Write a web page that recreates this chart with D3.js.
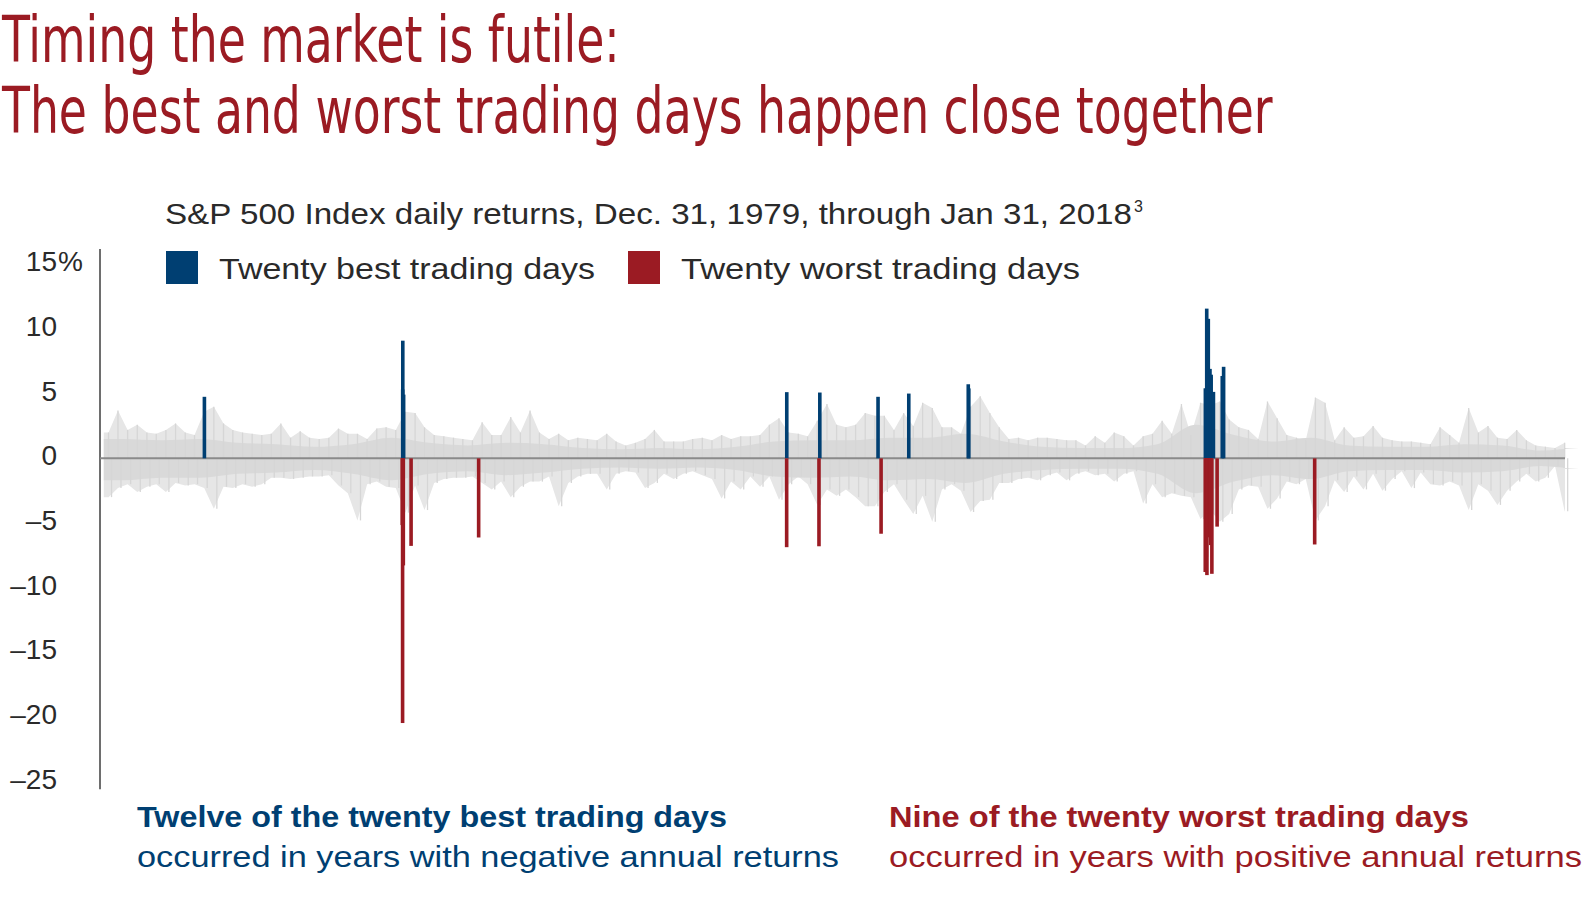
<!DOCTYPE html>
<html><head><meta charset="utf-8">
<script src="https://cdn.jsdelivr.net/npm/d3@7"></script>
<style>body{margin:0;background:#fff}</style>
</head><body><svg id="c" width="1588" height="909"></svg>
<script>
// ---------- DATA ----------
const titleLines = ["Timing the market is futile:", "The best and worst trading days happen close together"];
const subtitle = "S&P 500 Index daily returns, Dec. 31, 1979, through Jan 31, 2018";
const subtitleNote = "3";
const legendLabels = ["Twenty best trading days", "Twenty worst trading days"];
const yTicks = [15, 10, 5, 0, -5, -10, -15, -20, -25];

const bestDates = ["1982-08-17","1987-10-20","1987-10-21","1987-10-29","1997-10-28","1998-09-08","2000-03-16","2001-01-03","2002-07-24","2002-07-29","2008-09-30","2008-10-13","2008-10-20","2008-10-28","2008-11-13","2008-11-21","2008-11-24","2008-12-16","2009-03-10","2009-03-23"];
const bestValues = [4.76,5.33,9.10,4.93,5.12,5.09,4.76,5.01,5.73,5.41,5.42,11.58,4.77,10.79,6.92,6.32,6.47,5.14,6.37,7.08];

const worstDates = ["1987-10-16","1987-10-19","1987-10-26","1988-01-08","1989-10-13","1997-10-27","1998-08-31","2000-04-14","2008-09-29","2008-10-07","2008-10-09","2008-10-15","2008-10-22","2008-11-05","2008-11-12","2008-11-19","2008-11-20","2008-12-01","2009-01-20","2011-08-08"];
const worstValues = [-5.16,-20.47,-8.28,-6.77,-6.12,-6.87,-6.80,-5.83,-8.79,-5.74,-7.62,-9.03,-6.10,-5.27,-5.19,-6.12,-6.71,-8.93,-5.28,-6.66];

// Other daily returns (grey), largest up / down move per quarter, 1980 Q1 .. 2018 Q1
const grayStartYear = 1980;
const grayUp = [
 2.0,3.7,2.2,2.6, 2.0,1.9,2.2,2.7, 2.0,1.8,3.6,4.0, 2.7,2.2,2.0,1.9, 1.8,1.9,2.7,1.6,
 2.1,1.6,1.5,1.6, 2.3,1.9,1.9,1.5, 2.3,2.4,2.2,3.6, 3.5,2.4,1.8,1.7, 1.6,1.5,1.4,2.8,
 1.8,1.8,3.2,2.0, 3.7,2.0,1.5,1.9, 1.4,1.6,1.5,1.4, 1.9,1.3,1.0,1.2, 1.5,2.2,1.3,1.3,
 1.3,1.5,1.6,1.4, 1.8,1.5,1.7,1.7, 1.8,2.6,3.1,2.0, 1.9,1.7,2.9,4.2, 2.6,2.4,2.6,3.5,
 3.3,3.3,2.2,3.5, 2.5,4.3,3.9,2.4, 2.4,1.9,4.0,4.8, 3.5,2.4,1.5,1.6, 1.4,1.6,1.6,1.5,
 1.4,1.4,1.0,1.7, 1.2,2.0,1.7,1.0, 1.7,1.9,2.9,1.9, 4.2,1.8,4.3,4.1, 4.4,3.0,2.4,2.2,
 1.5,4.4,3.1,1.8, 1.6,1.4,4.7,4.3, 1.4,2.4,1.6,1.7, 2.5,1.6,1.4,1.3, 1.3,1.2,1.1,2.4,
 1.8,1.2,3.9,2.0, 2.5,1.6,1.5,2.2, 1.4,1.0,0.9,0.8, 1.2];
const grayDown = [
 -3.0,-2.3,-2.0,-2.6, -2.2,-2.0,-2.6,-1.9, -2.1,-2.0,-2.3,-3.9, -2.2,-2.3,-2.0,-2.2, -2.0,-1.5,-1.5,-1.6,
 -1.5,-1.4,-1.4,-1.3, -2.1,-2.7,-4.8,-2.0, -1.8,-2.2,-2.3,-4.2, -2.1,-4.0,-1.9,-1.6, -1.5,-1.5,-1.4,-1.9,
 -2.4,-1.8,-3.0,-2.2, -1.8,-1.8,-1.4,-3.7, -1.9,-1.4,-1.2,-1.2, -2.4,-1.2,-1.0,-1.1, -2.3,-1.9,-1.2,-1.6,
 -1.2,-1.0,-1.3,-1.6, -3.1,-1.8,-2.4,-1.4, -2.2,-1.4,-3.2,-2.0, -1.4,-2.0,-3.6,-2.4, -2.9,-2.4,-3.0,-3.7,
 -3.7,-2.6,-2.0,-3.2, -4.3,-2.9,-4.9,-2.4, -2.0,-2.5,-4.15,-3.3, -3.2,-1.9,-1.9,-1.6, -1.5,-1.7,-1.3,-1.1,
 -1.7,-1.2,-1.0,-1.3, -1.2,-1.8,-1.2,-1.0, -3.5,-2.0,-3.0,-2.7, -2.9,-3.0,-4.7,-4.0, -4.9,-4.3,-2.4,-2.1,
 -2.2,-3.9,-3.1,-1.8, -2.0,-1.6,-4.8,-3.7, -1.7,-2.6,-1.4,-2.4, -1.2,-2.5,-1.6,-1.0, -2.3,-1.1,-2.0,-2.1,
 -1.8,-2.1,-4.0,-2.0, -2.5,-3.6,-2.5,-1.8, -1.2,-1.8,-1.5,-0.6, -4.1];
// Typical (dense) daily range per year, 1980 .. 2018
const coreUp = [1.5,1.4,1.5,1.2,1.1,0.9,1.1,1.6,1.2,1.0,1.2,1.1,0.8,0.7,0.8,0.7,0.9,1.3,1.4,1.4,1.6,1.6,1.9,1.3,0.9,0.8,0.8,1.1,2.6,1.8,1.3,1.6,1.0,0.9,0.9,1.1,1.0,0.6,0.8];
const coreDown = [-1.7,-1.5,-1.5,-1.2,-1.1,-0.9,-1.2,-1.7,-1.2,-1.0,-1.3,-1.1,-0.8,-0.7,-0.8,-0.7,-0.9,-1.4,-1.5,-1.4,-1.7,-1.6,-1.9,-1.2,-0.9,-0.8,-0.8,-1.2,-2.7,-1.8,-1.3,-1.6,-1.0,-0.9,-0.9,-1.1,-1.0,-0.6,-0.8];

const noteLines = {
  best: ["Twelve of the twenty best trading days", "occurred in years with negative annual returns"],
  worst: ["Nine of the twenty worst trading days", "occurred in years with positive annual returns"]
};

// ---------- STYLE ----------
const RED = "#9b1b23", BLUE = "#003f72", GREY = "#d9d9d9", TEXT = "#2a2a2a";
const svg = d3.select("#c");
svg.append("rect").attr("width",1588).attr("height",909).attr("fill","#fff");

const parse = d3.timeParse("%Y-%m-%d");
const x = d3.scaleTime().domain([new Date(1980,0,1), new Date(2018,0,1)]).range([103.8, 103.8 + 38*38.32]);
const y = d3.scaleLinear().domain([-25, 15]).range([781.6, 264.4]);

// Title (condensed by horizontal scaling to the measured width)
const titleY = [62, 133], titleW = [618, 1271];
titleLines.forEach((t,i) => {
  const tx = svg.append("text").attr("x", 0).attr("y", 0)
    .attr("font-family", "'Liberation Sans Narrow','DejaVu Sans Condensed','Roboto Condensed',Arial,sans-serif")
    .attr("font-size", 64).attr("fill", RED)
    .text(t);
  const len = tx.node().getComputedTextLength();
  tx.attr("transform", `translate(2,${titleY[i]}) scale(${titleW[i]/len},1)`);
});

const FONT = "'Liberation Sans',Arial,Helvetica,sans-serif";
// Subtitle
svg.append("text").attr("x",165).attr("y",224).attr("font-family",FONT).attr("font-size",30)
  .attr("fill",TEXT).attr("textLength",967).attr("lengthAdjust","spacingAndGlyphs").text(subtitle);
svg.append("text").attr("x",1134).attr("y",212).attr("font-family",FONT).attr("font-size",16)
  .attr("fill",TEXT).text(subtitleNote);

// Legend
const legX = [166, 628], legTX = [219, 681], legTW = [376, 399], legC = [BLUE, RED];
legendLabels.forEach((l,i) => {
  svg.append("rect").attr("x",legX[i]).attr("y",251).attr("width",32).attr("height",33).attr("fill",legC[i]);
  svg.append("text").attr("x",legTX[i]).attr("y",279).attr("font-family",FONT).attr("font-size",30)
    .attr("fill",TEXT).attr("textLength",legTW[i]).attr("lengthAdjust","spacingAndGlyphs").text(l);
});

// Y axis
const yAxis = d3.axisLeft(y).tickValues(yTicks).tickSize(0).tickPadding(43)
  .tickFormat(d => d < 0 ? "\u2013" + Math.abs(d) : String(d));
const gy = svg.append("g").attr("transform","translate(100,0)").call(yAxis);
gy.select(".domain").remove();
gy.selectAll("text").attr("font-family",FONT).attr("font-size",28).attr("fill",TEXT).attr("dy","0.23em");
gy.selectAll(".tick").filter(d => d === 15).append("text")
  .attr("x",-42).attr("dy","0.23em").attr("font-family",FONT).attr("font-size",28)
  .attr("fill",TEXT).attr("text-anchor","start").text("%");
svg.append("line").attr("x1",100).attr("x2",100).attr("y1",y(16.2)).attr("y2",y(-25.6))
  .attr("stroke","#6e6e6e").attr("stroke-width",2);

// Grey daily returns
const qDate = i => new Date(grayStartYear + Math.floor(i/4), (i%4)*3 + 1, 15);
const xEnd = x.invert(1565);
const envData = grayUp.map((u,i) => ({date: qDate(i), hi: u, lo: grayDown[i]}));
const envExt = [{date: x.domain()[0], hi: grayUp[0], lo: grayDown[0]}, ...envData,
  {date: xEnd, hi: grayUp[grayUp.length-1], lo: grayDown[grayDown.length-1]}];
const coreData = coreUp.map((u,i) => ({date: new Date(grayStartYear+i, 6, 1), hi: u, lo: coreDown[i]}));
const coreExt = [{date: x.domain()[0], hi: coreUp[0], lo: coreDown[0]}, ...coreData,
  {date: xEnd, hi: coreUp[coreUp.length-1], lo: coreDown[coreDown.length-1]}];
const area = d3.area().x(d => x(d.date)).y0(d => y(d.lo)).y1(d => y(d.hi));
svg.append("path").datum(envExt).attr("d", area).attr("fill", "#e6e6e6");
svg.append("path").datum(coreExt).attr("d", area.curve(d3.curveMonotoneX)).attr("fill", GREY);

svg.append("g").selectAll("line").data(grayUp).join("line")
  .attr("x1",(d,i)=>x(qDate(i))).attr("x2",(d,i)=>x(qDate(i)))
  .attr("y1",y(0)).attr("y2",d=>y(d)).attr("stroke","#d6d6d6").attr("stroke-width",1.3);
svg.append("g").selectAll("line").data(grayDown).join("line")
  .attr("x1",(d,i)=>x(qDate(i))+3).attr("x2",(d,i)=>x(qDate(i))+3)
  .attr("y1",y(0)).attr("y2",d=>y(d)).attr("stroke","#d6d6d6").attr("stroke-width",1.3);

// Zero line
svg.append("line").attr("x1",100).attr("x2",1565).attr("y1",y(0)).attr("y2",y(0))
  .attr("stroke","#8a8a8a").attr("stroke-width",2);

// Best / worst bars
const bw = 3.6;
svg.append("g").selectAll("rect").data(bestValues).join("rect")
  .attr("x",(d,i)=>x(parse(bestDates[i]))-bw/2).attr("width",bw)
  .attr("y",d=>y(d)).attr("height",d=>y(0)-y(d)).attr("fill",BLUE);
svg.append("g").selectAll("rect").data(worstValues).join("rect")
  .attr("x",(d,i)=>x(parse(worstDates[i]))-bw/2).attr("width",bw)
  .attr("y",y(0)).attr("height",d=>y(d)-y(0)).attr("fill",RED);

// Notes
const notes = [{k:"best", x:137, c:BLUE, w:[590,702]}, {k:"worst", x:889, c:RED, w:[580,693]}];
notes.forEach(n => {
  svg.append("text").attr("x",n.x).attr("y",827).attr("font-family",FONT).attr("font-size",29)
    .attr("font-weight","bold").attr("fill",n.c).attr("textLength",n.w[0]).attr("lengthAdjust","spacingAndGlyphs")
    .text(noteLines[n.k][0]);
  svg.append("text").attr("x",n.x).attr("y",867).attr("font-family",FONT).attr("font-size",29)
    .attr("fill",n.c).attr("textLength",n.w[1]).attr("lengthAdjust","spacingAndGlyphs")
    .text(noteLines[n.k][1]);
});
</script></body></html>
